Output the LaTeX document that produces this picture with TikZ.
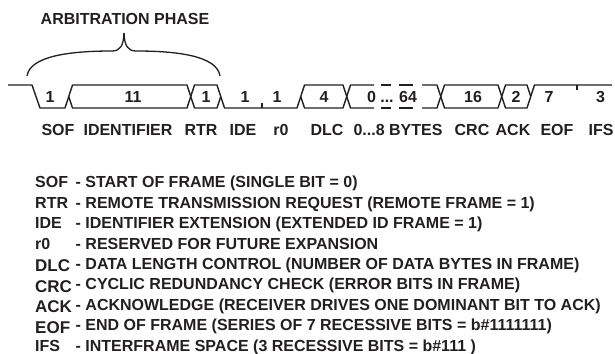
\documentclass[tikz,border=0pt]{standalone}
\usepackage{fontspec}
\setmainfont{Liberation Sans}
\definecolor{ink}{HTML}{231F20}
\begin{document}
\begin{tikzpicture}[x=1pt,y=-1pt,
  wave/.style={line width=1.4pt, draw=ink, line join=round},
  lbl/.style={font=\fontsize{16}{19}\selectfont\bfseries, text=ink, inner sep=0pt, anchor=base},
  abbr/.style={font=\fontsize{16}{19}\selectfont\bfseries, text=ink, inner sep=0pt, anchor=base west},
  big/.style={font=\fontsize{17}{19}\selectfont\bfseries}]
\useasboundingbox (0,0) rectangle (615,353);
\def\T{85}\def\B{108}\def\M{96.5}
% waveform
\draw[wave] (8,\T) -- (32,\T) -- (40,\B) -- (65,\B) -- (72.5,\T) -- (187,\T) -- (194.5,\B) -- (217,\B) -- (220.75,\M);
\draw[wave] (68.75,\M) -- (72.5,\B) -- (187,\B) -- (194.5,\T) -- (217,\T) -- (224.5,\B) -- (297,\B) -- (304.5,\T) -- (343,\T) -- (350.5,\B) -- (374,\B);
\draw[wave] (300.75,\M) -- (304.5,\B) -- (343,\B) -- (350.5,\T) -- (374,\T);
\draw[wave] (381,\T) -- (391,\T) (399,\T) -- (413,\T);
\draw[wave] (381,\B) -- (391,\B) (399,\B) -- (413,\B);
\draw[wave] (422,\T) -- (437,\T) -- (444.5,\B) -- (498,\B) -- (505.5,\T) -- (527,\T) -- (530.75,\M);
\draw[wave] (422,\B) -- (437,\B) -- (444.5,\T) -- (498,\T) -- (505.5,\B) -- (527,\B) -- (534.5,\T) -- (612,\T);
\draw[wave] (262,103) -- (262,\B);
\draw[wave] (577,\T) -- (577,90);
% brace
\draw[wave, line width=1.3pt] (27,76) .. controls (30,56) and (70,51) .. (112,51) .. controls (120,51) and (123.5,46) .. (124,33);
\draw[wave, line width=1.3pt] (124,33) .. controls (124.5,46) and (128,51) .. (136,51) .. controls (178,51) and (217,56) .. (220,76);
\node[lbl] (arb) at (125,24.5) {ARBITRATION PHASE};
% bit counts
\node[lbl] (c1) at (50,102.5) {1};
\node[lbl] (c2) at (133,102.5) {11};
\node[lbl] (c3) at (206,102.5) {1};
\node[lbl] (c4) at (245,102.5) {1};
\node[lbl] (c5) at (277,102.5) {1};
\node[lbl] (c6) at (324,102.5) {4};
\node[lbl] (c7) at (371.5,102.5) {0};
\node[lbl] (c8) at (387,102.5) {...};
\node[lbl] (c9) at (408,102.5) {64};
\node[lbl] (c10) at (473,102.5) {16};
\node[lbl] (c11) at (516,102.5) {2};
\node[lbl] (c12) at (549,102.5) {7};
\node[lbl] (c13) at (600.5,102.5) {3};
% field names
\node[lbl] (f1) at (58,135) {SOF};
\node[lbl] (f2) at (128,135) {IDENTIFIER};
\node[lbl] (f3) at (201,135) {RTR};
\node[lbl] (f4) at (243,135) {IDE};
\node[lbl] (f5) at (281,135) {r0};
\node[lbl] (f6) at (327,135) {DLC};
\node[lbl] (f7) at (398,135) {0...8 BYTES};
\node[lbl] (f8) at (472,135) {CRC};
\node[lbl] (f9) at (513,135) {ACK};
\node[lbl] (f10) at (557,135) {EOF};
\node[lbl] (f11) at (601,135) {IFS};
% legend
\node[abbr] (a1) at (35,187.8) {SOF};
\node[abbr] (d1) at (75.5,187.8) {- START OF FRAME (SINGLE BIT = 0)};
\node[abbr] (a2) at (35,208.2) {RTR};
\node[abbr] (d2) at (75.5,208.2) {- REMOTE TRANSMISSION REQUEST (REMOTE FRAME = 1)};
\node[abbr] (a3) at (35,228.6) {IDE};
\node[abbr] (d3) at (75.5,228.6) {- IDENTIFIER EXTENSION (EXTENDED ID FRAME = 1)};
\node[abbr] (a4) at (35,249.0) {r0};
\node[abbr] (d4) at (75.5,249.0) {- RESERVED FOR FUTURE EXPANSION};
\node[abbr,big] (a5) at (35,271.9) {DLC};
\node[abbr] (d5) at (75.5,269.4) {- DATA LENGTH CONTROL (NUMBER OF DATA BYTES IN FRAME)};
\node[abbr,big] (a6) at (35,292.3) {CRC};
\node[abbr] (d6) at (75.5,289.8) {- CYCLIC REDUNDANCY CHECK (ERROR BITS IN FRAME)};
\node[abbr,big] (a7) at (35,312.7) {ACK};
\node[abbr] (d7) at (75.5,310.2) {- ACKNOWLEDGE (RECEIVER DRIVES ONE DOMINANT BIT TO ACK)};
\node[abbr,big] (a8) at (35,333.1) {EOF};
\node[abbr] (d8) at (75.5,330.6) {- END OF FRAME (SERIES OF 7 RECESSIVE BITS = b\#1111111)};
\node[abbr] (a9) at (35,351.0) {IFS};
\node[abbr] (d9) at (75.5,351.0) {- INTERFRAME SPACE (3 RECESSIVE BITS = b\#111 )};
\end{tikzpicture}
\end{document}
